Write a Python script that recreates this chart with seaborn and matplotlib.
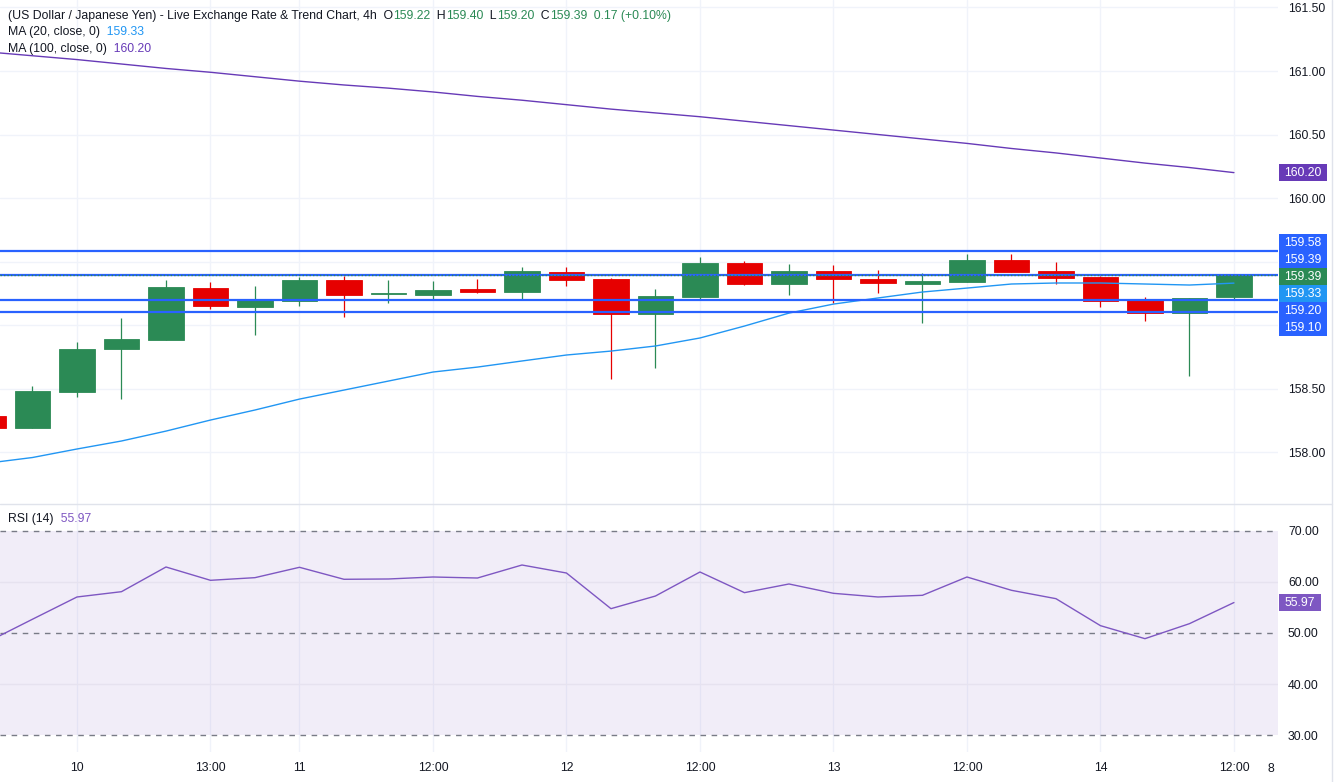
import matplotlib
matplotlib.use("Agg")
import matplotlib.pyplot as plt
import matplotlib.transforms as mtrans
from matplotlib.patches import Rectangle
import seaborn as sns
import pandas as pd
import numpy as np

# 4h candles, index -1 is the partly hidden one at the left edge
idx = list(range(-1, 28))
opens = [158.28, 158.19, 158.475, 158.81, 158.885, 159.29, 159.14, 159.19, 159.355, 159.245,
         159.24, 159.285, 159.26, 159.417, 159.362, 159.09, 159.22, 159.488, 159.325, 159.425,
         159.362, 159.325, 159.34, 159.512, 159.425, 159.378, 159.197, 159.097, 159.22]
highs = [158.29, 158.52, 158.87, 159.055, 159.355, 159.34, 159.31, 159.375, 159.386, 159.355,
         159.345, 159.36, 159.457, 159.457, 159.37, 159.283, 159.535, 159.504, 159.48, 159.472,
         159.433, 159.41, 159.56, 159.56, 159.496, 159.386, 159.22, 159.215, 159.40]
lows = [158.15, 158.19, 158.43, 158.42, 158.885, 159.13, 158.92, 159.15, 159.06, 159.17,
        159.205, 159.255, 159.197, 159.31, 158.577, 158.664, 159.197, 159.317, 159.24, 159.176,
        159.254, 159.018, 159.34, 159.417, 159.325, 159.144, 159.034, 158.60, 159.20]
closes = [158.19, 158.48, 158.81, 158.89, 159.30, 159.15, 159.20, 159.355, 159.24, 159.25,
          159.275, 159.26, 159.425, 159.357, 159.09, 159.228, 159.488, 159.325, 159.425, 159.36,
          159.328, 159.346, 159.512, 159.417, 159.373, 159.19, 159.097, 159.213, 159.39]

ma20 = [157.913, 157.957, 158.024, 158.087, 158.165, 158.252, 158.331, 158.417, 158.488, 158.559,
        158.63, 158.669, 158.717, 158.764, 158.795, 158.835, 158.898, 158.992, 159.094, 159.165,
        159.213, 159.26, 159.291, 159.323, 159.331, 159.331, 159.323, 159.315, 159.33]
ma100 = [161.15, 161.12, 161.09, 161.055, 161.02, 160.99, 160.955, 160.92, 160.89, 160.865,
         160.835, 160.80, 160.77, 160.735, 160.70, 160.67, 160.64, 160.605, 160.57, 160.535,
         160.50, 160.465, 160.43, 160.39, 160.355, 160.315, 160.275, 160.24, 160.20]
rsi = [48.3, 52.7, 57.06, 58.1, 62.94, 60.33, 60.85, 62.88, 60.53, 60.59,
       60.98, 60.78, 63.33, 61.76, 54.77, 57.25, 61.96, 57.91, 59.61, 57.78,
       57.06, 57.39, 60.98, 58.37, 56.73, 51.44, 48.89, 51.83, 55.97]

tick_pos = [1, 4, 6, 9, 12, 15, 18, 21, 24, 27]
tick_labels = ["10", "13:00", "11", "12:00", "12", "12:00", "13", "12:00", "14", "12:00"]
levels = [159.58, 159.39, 159.20, 159.10]
last_price = 159.39

GREEN = "#2b8a55"
RED = "#e60000"
BLUE = "#2962ff"
LBLUE = "#2196f3"
PURPLE = "#673ab7"
RSI_C = "#7e57c2"
TXT = "#131722"
GRID = "#f0f3fa"

sns.set_theme(style="white")
plt.rcParams['font.family'] = ['Liberation Sans', 'DejaVu Sans']
FS = 8.8

W, H = 1334, 782
fig = plt.figure(figsize=(W / 100, H / 100), dpi=100)
ax = fig.add_axes([0, (H - 504) / H, 1278 / W, 504 / H])
ax2 = fig.add_axes([0, (H - 752) / H, 1278 / W, 248 / H], sharex=ax)

df = pd.DataFrame(dict(i=idx, o=opens, h=highs, l=lows, c=closes))
cols = np.where(df.c >= df.o, GREEN, RED)

# grid
for a in (ax, ax2):
    for s in a.spines.values():
        s.set_visible(False)
    for p in tick_pos:
        a.axvline(p, color=GRID, lw=1, zorder=0)
for y in np.arange(158.0, 161.51, 0.5):
    ax.axhline(y, color=GRID, lw=1, zorder=0)

# candles
ax.vlines(df.i, df.l, df.h, colors=cols, lw=0.9, zorder=2)
ax.bar(df.i, (df.c - df.o).abs(), bottom=df[["o", "c"]].min(axis=1), width=0.79,
       color=cols, edgecolor=cols, linewidth=0.6, zorder=3)

sns.lineplot(x=idx, y=ma20, ax=ax, color=LBLUE, lw=1.0, zorder=3)
sns.lineplot(x=idx, y=ma100, ax=ax, color=PURPLE, lw=1.0, zorder=3)

for lv in levels:
    ax.axhline(lv, color=BLUE, lw=1.6, zorder=4)
ax.axhline(last_price, color=GREEN, lw=1.0, ls=(0, (1, 1.5)), zorder=5)

ax.set_xlim(-0.73, 27.99)
ax.set_ylim(157.591, 161.559)
ax.yaxis.tick_right()
yt = np.arange(158.0, 161.51, 0.5)
ax.set_yticks(yt)
ax.set_yticklabels(["" if abs(v - 159.0) < 1e-6 or abs(v - 159.5) < 1e-6 else f"{v:.2f}" for v in yt])
ax.tick_params(axis="y", length=0, pad=7.2, labelsize=FS, labelcolor=TXT)
ax.tick_params(axis="x", length=0, labelbottom=False)
ax.set_xlabel("")
ax.set_ylabel("")

# RSI panel
ax2.axhspan(30, 70, color=RSI_C, alpha=0.1, lw=0, zorder=0)
for y in (40, 60):
    ax2.axhline(y, color="#e6e2ef", lw=1, zorder=1)
for y in (30, 50, 70):
    ax2.axhline(y, color="#787b86", lw=1, ls=(0, (4, 4)), zorder=2)
sns.lineplot(x=idx, y=rsi, ax=ax2, color=RSI_C, lw=1.0, zorder=3)
ax2.set_ylim(26.67, 75.29)
ax2.yaxis.tick_right()
ax2.set_yticks([30, 40, 50, 60, 70])
ax2.set_yticklabels([f"{v:.2f}" for v in [30, 40, 50, 60, 70]])
ax2.tick_params(axis="y", length=0, pad=7.2, labelsize=FS, labelcolor=TXT)
ax2.set_xticks(tick_pos)
ax2.set_xticklabels(tick_labels)
ax2.tick_params(axis="x", length=0, pad=7.5, labelsize=FS, labelcolor=TXT)
ax2.set_xlabel("")
ax2.set_ylabel("")
fig.text(1271 / W, 1 - 769 / H, "8", ha="center", va="center", fontsize=FS, color=TXT)


# right-hand price labels
def price_box(a, y, text, color, width_px, px_per_unit):
    tr = mtrans.blended_transform_factory(a.transAxes, a.transData)
    h = 17 / px_per_unit
    a.add_patch(Rectangle((1.0007, y - h / 2), width_px / 1278, h, transform=tr,
                          color=color, clip_on=False, zorder=10, lw=0))
    a.text(1.0007 + width_px / 1278 / 2, y, text, transform=tr, ha="center", va="center",
           color="white", fontsize=FS, clip_on=False, zorder=11)


stack = [(159.58, BLUE), (159.39, BLUE), (159.39, GREEN), (159.33, LBLUE), (159.20, BLUE), (159.10, BLUE)]
box_h = 17 / 127
centre = np.mean([v for v, _ in stack]) - 0.02
n = len(stack)
for k, (v, c) in enumerate(stack):
    price_box(ax, centre + (n - 1) / 2 * box_h - k * box_h, f"{v:.2f}", c, 48, 127)
price_box(ax, ma100[-1], f"{ma100[-1]:.2f}", PURPLE, 48, 127)
price_box(ax2, rsi[-1], f"{rsi[-1]:.2f}", RSI_C, 42, 5.1)


# legend-style headers
def chain(x, y, parts):
    t = fig.text(x / W, 1 - y / H, parts[0][0], color=parts[0][1], fontsize=FS, va="center")
    for s, c in parts[1:]:
        t = fig.add_artist(plt.Annotation(s, xy=(1, 0.5), xycoords=t, va="center", ha="left",
                                          color=c, fontsize=FS))
    return t


chain(8, 16, [("(US Dollar / Japanese Yen) - Live Exchange Rate & Trend Chart, 4h  O", TXT),
              ("159.22", GREEN), ("  H", TXT), ("159.40", GREEN), ("  L", TXT), ("159.20", GREEN),
              ("  C", TXT), ("159.39", GREEN), ("  0.17 (+0.10%)", GREEN)])
chain(8, 32, [("MA (20, close, 0)", TXT), ("  159.33", LBLUE)])
chain(8, 49, [("MA (100, close, 0)", TXT), ("  160.20", PURPLE)])
chain(8, 519, [("RSI (14)", TXT), ("  55.97", RSI_C)])

# panel frame lines
fig.add_artist(plt.Line2D([0, 1332 / W], [1 - 504 / H] * 2, color="#e0e3eb", lw=1))
fig.add_artist(plt.Line2D([1332 / W] * 2, [0, 1], color="#e0e3eb", lw=1))

fig.savefig("out.png", dpi=100)
